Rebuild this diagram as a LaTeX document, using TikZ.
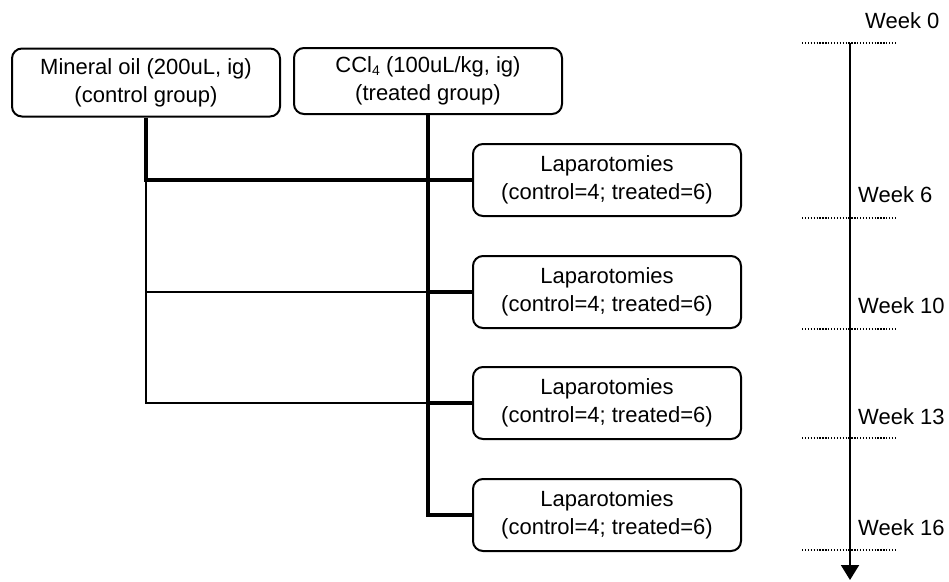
\documentclass[tikz,border=0pt]{standalone}
\usepackage{fontspec}
\setmainfont{Liberation Sans}
\usetikzlibrary{arrows.meta}
\begin{document}
\begin{tikzpicture}[x=1pt,y=-1pt,
  box/.style={draw, line width=2pt, rounded corners=10pt, minimum width=268pt, align=center, inner sep=0pt, font=\fontsize{22}{28}\selectfont},
  thick line/.style={line width=3.2pt},
  thin line/.style={line width=1.7pt},
  dotline/.style={line width=1.5pt, dash pattern=on 1.3pt off 1.6pt},
  wk/.style={anchor=base west, inner sep=0pt, font=\fontsize{22}{28}\selectfont}]
\useasboundingbox[fill=white] (0,0) rectangle (949,581);

\node[box, minimum height=68pt] (c1) at (146,82.5) {Mineral oil (200uL, ig)\\(control group)};
\node[box, minimum height=66pt] (t2) at (428,81) {CCl{\fontsize{14}{14}\selectfont\raisebox{-3pt}{4}} (100uL/kg, ig)\\(treated group)};

\node[box, minimum height=72pt] (l1) at (607,180) {Laparotomies\\(control=4; treated=6)};
\node[box, minimum height=72pt] (l2) at (607,292) {Laparotomies\\(control=4; treated=6)};
\node[box, minimum height=72pt] (l3) at (607,403) {Laparotomies\\(control=4; treated=6)};
\node[box, minimum height=72pt] (l4) at (607,515) {Laparotomies\\(control=4; treated=6)};

\coordinate (cA) at (c1.south |- l1.west);
\coordinate (cB) at (c1.south |- l2.west);
\coordinate (cC) at (c1.south |- l3.west);
\coordinate (tB) at (t2.south |- l2.west);
\coordinate (tC) at (t2.south |- l3.west);

% thin control branches
\draw[thin line] (cA) -- (cC) -- (tC);
\draw[thin line] (cB) -- (tB);
% thick lines
\draw[thick line] (c1.south) -- (cA) -- (l1.west);
\draw[thick line] (t2.south) |- (l4.west);
\draw[thick line] (tB) -- (l2.west);
\draw[thick line] (tC) -- (l3.west);

% timeline
\coordinate (a0) at (850,43);
\coordinate (a1) at (850,580);
\draw[line width=2pt, -{Triangle[width=18pt,length=15pt]}] (a0) -- (a1);
\foreach \yy in {43,218,329,438,550} {
  \draw[dotline] (802,\yy) -- (897,\yy);
}
\node[wk] (w0) at (865,28) {Week 0};
\node[wk] (w6) at (858,202) {Week 6};
\node[wk] (w10) at (858,313) {Week 10};
\node[wk] (w13) at (858,424) {Week 13};
\node[wk] (w16) at (858,535) {Week 16};
\end{tikzpicture}
\end{document}
